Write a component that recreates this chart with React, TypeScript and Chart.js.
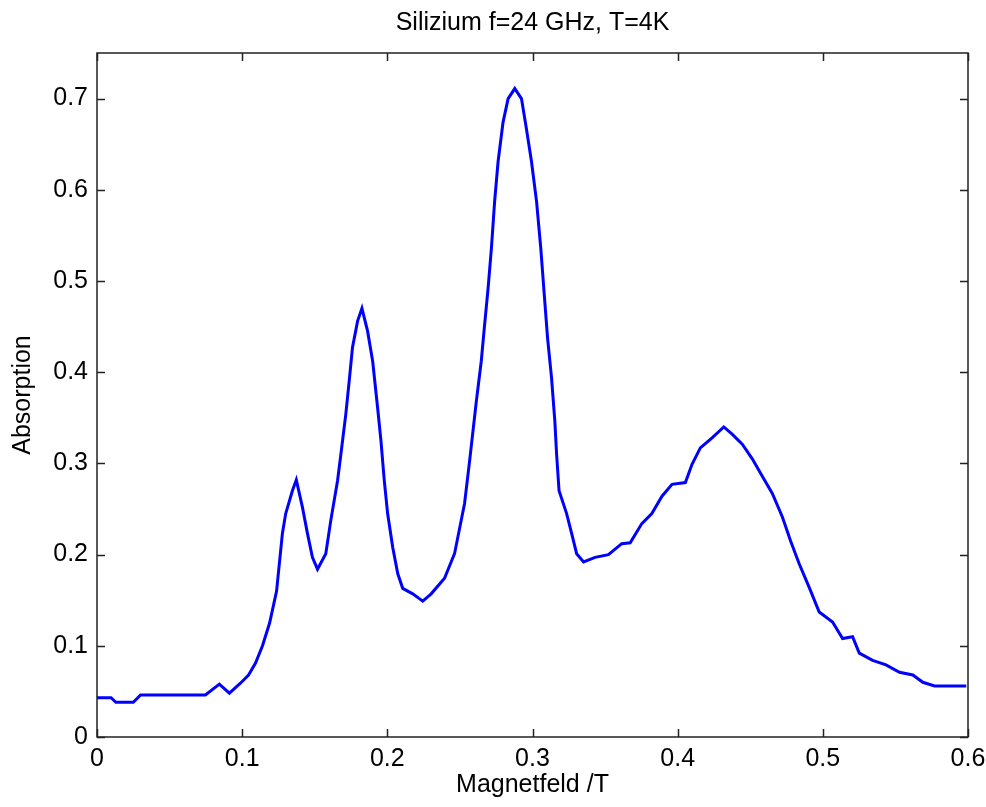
import React, { useEffect, useRef } from "react";
import { Chart, registerables } from "chart.js";

Chart.register(...registerables);

const TITLE = "Silizium f=24 GHz, T=4K";
const X_LABEL = "Magnetfeld /T";
const Y_LABEL = "Absorption";

const fieldT: number[] = [
  0, 0.0097, 0.013, 0.025, 0.03, 0.0747, 0.0843, 0.0912, 0.0988, 0.1044,
  0.1092, 0.114, 0.1189, 0.1237, 0.1277, 0.13, 0.1346, 0.1373, 0.1415, 0.145,
  0.1484, 0.1519, 0.1576, 0.161, 0.1657, 0.168, 0.1714, 0.1737, 0.176, 0.1795,
  0.1825, 0.1864, 0.1899, 0.1933, 0.1956, 0.1979, 0.2002, 0.2037, 0.2072, 0.2106,
  0.2175, 0.2244, 0.2302, 0.2394, 0.2463, 0.2532, 0.2567, 0.2613, 0.2647, 0.267,
  0.2694, 0.2717, 0.2739, 0.2763, 0.2797, 0.2832, 0.2878, 0.2924, 0.2958, 0.2993,
  0.3028, 0.3057, 0.3081, 0.3104, 0.3131, 0.3154, 0.3166, 0.3183, 0.3235, 0.327,
  0.3304, 0.3352, 0.3431, 0.3523, 0.3615, 0.3673, 0.3753, 0.3822, 0.3892, 0.3961,
  0.4053, 0.4099, 0.4156, 0.4237, 0.4318, 0.4375, 0.4445, 0.4514, 0.4583, 0.4652,
  0.4722, 0.4778, 0.4837, 0.4906, 0.4975, 0.5067, 0.5136, 0.5205, 0.5251, 0.5343,
  0.5435, 0.5528, 0.562, 0.5689, 0.577, 0.5988,
];

const absorption: number[] = [
  0.043, 0.043, 0.038, 0.038, 0.046, 0.046, 0.058, 0.048, 0.059, 0.068,
  0.081, 0.1, 0.125, 0.16, 0.223, 0.245, 0.27, 0.282, 0.252, 0.223,
  0.197, 0.184, 0.201, 0.237, 0.281, 0.31, 0.354, 0.39, 0.427, 0.456,
  0.47, 0.445, 0.412, 0.361, 0.325, 0.281, 0.245, 0.208, 0.179, 0.163,
  0.157, 0.149, 0.157, 0.174, 0.201, 0.256, 0.303, 0.368, 0.412, 0.452,
  0.492, 0.536, 0.587, 0.631, 0.674, 0.7, 0.711, 0.7, 0.667, 0.631,
  0.587, 0.536, 0.485, 0.437, 0.394, 0.346, 0.31, 0.27, 0.245, 0.223,
  0.201, 0.192, 0.197, 0.2, 0.212, 0.213, 0.234, 0.245, 0.264, 0.277,
  0.279, 0.299, 0.317, 0.328, 0.34, 0.332, 0.321, 0.305, 0.286, 0.267,
  0.241, 0.215, 0.19, 0.164, 0.137, 0.126, 0.108, 0.11, 0.092, 0.084,
  0.079, 0.071, 0.068, 0.06, 0.056, 0.056,
];

const X_MIN = 0;
const X_MAX = 0.6;
const Y_MIN = 0;
const Y_MAX = 0.75;
const TICK_STEP = 0.1;

const FONT = "'Liberation Sans', Arial, Helvetica, sans-serif";
const FONT_SIZE = 25;
const AXIS_COLOR = "#222222";

const innerTicks = {
  id: "innerTicks",
  afterDraw(chart: any) {
    const { ctx, chartArea } = chart;
    const { left, right, top, bottom } = chartArea;
    const xs = chart.scales.x;
    const ys = chart.scales.y;
    const len = 8;
    ctx.save();
    ctx.strokeStyle = AXIS_COLOR;
    ctx.lineWidth = 1.5;
    ctx.beginPath();
    ctx.rect(left, top, right - left, bottom - top);
    ctx.stroke();
    ctx.beginPath();
    xs.ticks.forEach((t: any) => {
      const px = Math.round(xs.getPixelForValue(t.value)) + 0.5;
      ctx.moveTo(px, bottom);
      ctx.lineTo(px, bottom - len);
      ctx.moveTo(px, top);
      ctx.lineTo(px, top + len);
    });
    ys.ticks.forEach((t: any) => {
      const py = Math.round(ys.getPixelForValue(t.value)) + 0.5;
      ctx.moveTo(left, py);
      ctx.lineTo(left + len, py);
      ctx.moveTo(right, py);
      ctx.lineTo(right - len, py);
    });
    ctx.stroke();
    ctx.restore();
  },
};

const fmt = (v: any) => {
  const n = Number(Number(v).toFixed(1));
  return n === 0 ? "0" : String(n);
};

export default function App() {
  const ref = useRef<HTMLCanvasElement | null>(null);

  useEffect(() => {
    if (!ref.current) return;
    const points = fieldT.map((x, i) => ({ x, y: absorption[i] }));
    const chart = new Chart(ref.current, {
      type: "line",
      data: {
        datasets: [
          {
            data: points,
            borderColor: "#0000ff",
            borderWidth: 3,
            pointRadius: 0,
            tension: 0,
            fill: false,
          },
        ],
      },
      options: {
        animation: false,
        responsive: false,
        maintainAspectRatio: false,
        layout: { padding: { left: 0, right: 18, top: 0, bottom: 0 } },
        plugins: {
          legend: { display: false },
          tooltip: { enabled: false },
          title: { display: false },
        },
        scales: {
          x: {
            type: "linear",
            min: X_MIN,
            max: X_MAX,
            afterFit: (s: any) => {
              s.height = 70;
              s.paddingLeft = 0;
              s.paddingRight = 0;
            },
            grid: { display: false, drawTicks: false },
            border: { display: false },
            ticks: {
              stepSize: TICK_STEP,
              includeBounds: false,
              padding: 10,
              color: "#000",
              font: { family: FONT, size: FONT_SIZE, lineHeight: 1.0 },
              maxRotation: 0,
              callback: (v: any) => fmt(v),
            },
            title: {
              display: true,
              text: X_LABEL,
              color: "#000",
              font: { family: FONT, size: FONT_SIZE, lineHeight: 1.2 },
              padding: { top: 0, bottom: 7 },
            },
          },
          xTop: {
            type: "linear",
            position: "top",
            min: X_MIN,
            max: X_MAX,
            afterFit: (s: any) => {
              s.height = 53;
              s.paddingLeft = 0;
              s.paddingRight = 0;
            },
            grid: { display: false, drawTicks: false },
            border: { display: false },
            ticks: { display: false },
            title: {
              display: true,
              text: TITLE,
              color: "#000",
              font: { family: FONT, size: FONT_SIZE, lineHeight: 1.2 },
              padding: { top: 8, bottom: 0 },
            },
          },
          y: {
            type: "linear",
            min: Y_MIN,
            max: Y_MAX,
            afterFit: (s: any) => {
              s.width = 97;
              s.paddingTop = 0;
              s.paddingBottom = 0;
            },
            grid: { display: false, drawTicks: false },
            border: { display: false },
            ticks: {
              stepSize: TICK_STEP,
              includeBounds: false,
              padding: 9,
              color: "#000",
              font: { family: FONT, size: FONT_SIZE },
              callback: (v: any) => fmt(v),
            },
            title: {
              display: true,
              text: Y_LABEL,
              color: "#000",
              font: { family: FONT, size: FONT_SIZE, lineHeight: 1.2 },
              padding: { top: 8, bottom: 0 },
            },
          },
        },
      },
      plugins: [innerTicks],
    });
    return () => chart.destroy();
  }, []);

  return (
    <div style={{ position: "absolute", left: 0, top: 0, width: 986, height: 807, background: "#fff" }}>
      <canvas ref={ref} width={986} height={807} style={{ width: 986, height: 807 }} />
    </div>
  );
}
